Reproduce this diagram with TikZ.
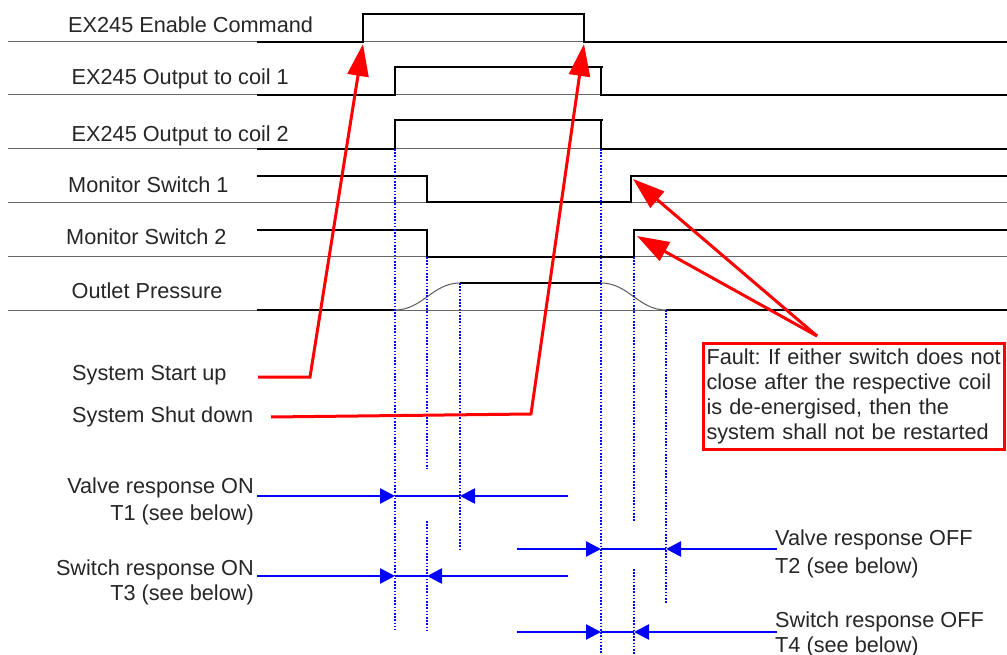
\documentclass[tikz,border=0pt]{standalone}
\usepackage{fontspec}
\setmainfont{Liberation Sans}
\usetikzlibrary{arrows.meta, positioning}
\frenchspacing

\tikzset{
  lbl/.style={font=\fontsize{21.7}{25.3}\selectfont, text=black!85, inner sep=0pt},
  rail/.style={black!60, line width=1pt},
  sig/.style={black, line width=2.2pt},
  ramp/.style={black!65, line width=1pt},
  tmark/.style={blue, line width=1.6pt, dash pattern=on 1.6pt off 1.6pt},
  redarr/.style={red, line width=3pt, -{Triangle[length=32pt, width=21pt]}},
  bluearr/.style={blue, line width=2.6pt, -{Triangle[length=15pt, width=15pt]}},
  span/.style={blue, line width=1.5pt}
}

\begin{document}
\begin{tikzpicture}[x=1pt, y=-1pt]
    \useasboundingbox (0,0) rectangle (1007,655);

    \foreach \y in {42,95,149,203,257,310}
        \draw[rail] (8,\y) -- (1007,\y);

    \node[lbl, anchor=base west] (enable) at (68,32.5) {EX245 Enable Command};
    \node[lbl, anchor=base west] (coilA) at (71.5,85) {EX245 Output to coil 1};
    \node[lbl, anchor=base west] (coilB) at (71.5,141.5) {EX245 Output to coil 2};
    \node[lbl, anchor=base west] (swA) at (68,192.5) {Monitor Switch 1};
    \node[lbl, anchor=base west] (swB) at (66,245) {Monitor Switch 2};
    \node[lbl, anchor=base west] (outlet) at (71.5,298.5) {Outlet Pressure};

    \draw[sig] (257,42) -- (363,42) -- (363,14) -- (584,14) -- (584,42) -- (1007,42);
    \draw[sig] (257,95) -- (395,95) -- (395,67) -- (603,67) (601,67) -- (601,95) -- (1007,95);
    \draw[sig] (257,149) -- (395,149) -- (395,120) -- (603,120) (601,120) -- (601,149) -- (1007,149);
    \draw[sig] (257,176) -- (427,176) -- (427,202) -- (631,202) -- (631,176) -- (1007,176);
    \draw[sig] (257,230) -- (427,230) -- (427,257) -- (634,257) -- (634,230) -- (1007,230);
    \draw[sig] (257,310) -- (395,310) (460,283) -- (601,283) (666,310) -- (1007,310);
    \draw[ramp] (395,310) to[out=0, in=180] (460,283);
    \draw[ramp] (601,283) to[out=0, in=180] (666,310);

    \draw[tmark] (395,149) -- (395,630);
    \draw[tmark] (427,257) -- (427,469) (427,521) -- (427,630);
    \draw[tmark] (460,283) -- (460,549);
    \draw[tmark] (601,149) -- (601,655);
    \draw[tmark] (634,257) -- (634,522) (634,569) -- (634,655);
    \draw[tmark] (666,310) -- (666,603);

    \node[lbl, anchor=base west] (startup) at (72,380) {System Start up};
    \node[lbl, anchor=base west] (shutdown) at (72,422) {System Shut down};
    \coordinate (su) at (258,377);
    \coordinate (suBend) at (310,377);
    \coordinate (sd) at (271,417);
    \coordinate (sdBend) at (531,414);
    \coordinate (enRise) at (363,44);
    \coordinate (enFall) at (584,44);
    \draw[redarr] (su) -- (suBend) -- (enRise);
    \draw[redarr] (sd) -- (sdBend) -- (enFall);

    \node[lbl, draw=red, line width=3pt, align=left, anchor=north west,
          text width=295pt, inner xsep=3pt, inner ysep=4.8pt] (fault) at (702,342)
        {Fault: If either switch does not\\close after the respective coil\\is de-energised, then the\\system shall not be restarted};
    \coordinate (faultTip) at (817,336);
    \coordinate (swAUp) at (633,179);
    \coordinate (swBUp) at (637,236);
    \draw[redarr] (faultTip) -- (swAUp);
    \draw[redarr] (faultTip) -- (swBUp);

    \node[lbl, anchor=base east] (vOn) at (254,493) {Valve response ON};
    \node[lbl, anchor=base east] (tOne) at (254,520) {T1 (see below)};
    \node[lbl, anchor=base east] (sOn) at (254,575) {Switch response ON};
    \node[lbl, anchor=base east] (tThree) at (254,600) {T3 (see below)};
    \node[lbl, anchor=base west] (vOff) at (775,545) {Valve response OFF};
    \node[lbl, anchor=base west] (tTwo) at (775,573) {T2 (see below)};
    \node[lbl, anchor=base west] (sOff) at (775,627) {Switch response OFF};
    \node[lbl, anchor=base west] (tFour) at (775,652) {T4 (see below)};

    \coordinate (vOnA) at (395,496);
    \coordinate (vOnB) at (460,496);
    \coordinate (sOnA) at (395,576);
    \coordinate (sOnB) at (427,576);
    \coordinate (vOffA) at (601,549);
    \coordinate (vOffB) at (666,549);
    \coordinate (sOffA) at (601,632);
    \coordinate (sOffB) at (634,632);

    \draw[bluearr] (257,496) -- (vOnA);
    \draw[bluearr] (568,496) -- (vOnB);
    \draw[span] (vOnA) -- (vOnB);
    \draw[bluearr] (257,576) -- (sOnA);
    \draw[bluearr] (568,576) -- (sOnB);
    \draw[span] (sOnA) -- (sOnB);
    \draw[bluearr] (517,549) -- (vOffA);
    \draw[bluearr] (777,549) -- (vOffB);
    \draw[span] (vOffA) -- (vOffB);
    \draw[bluearr] (517,632) -- (sOffA);
    \draw[bluearr] (777,632) -- (sOffB);
    \draw[span] (sOffA) -- (sOffB);
\end{tikzpicture}
\end{document}
